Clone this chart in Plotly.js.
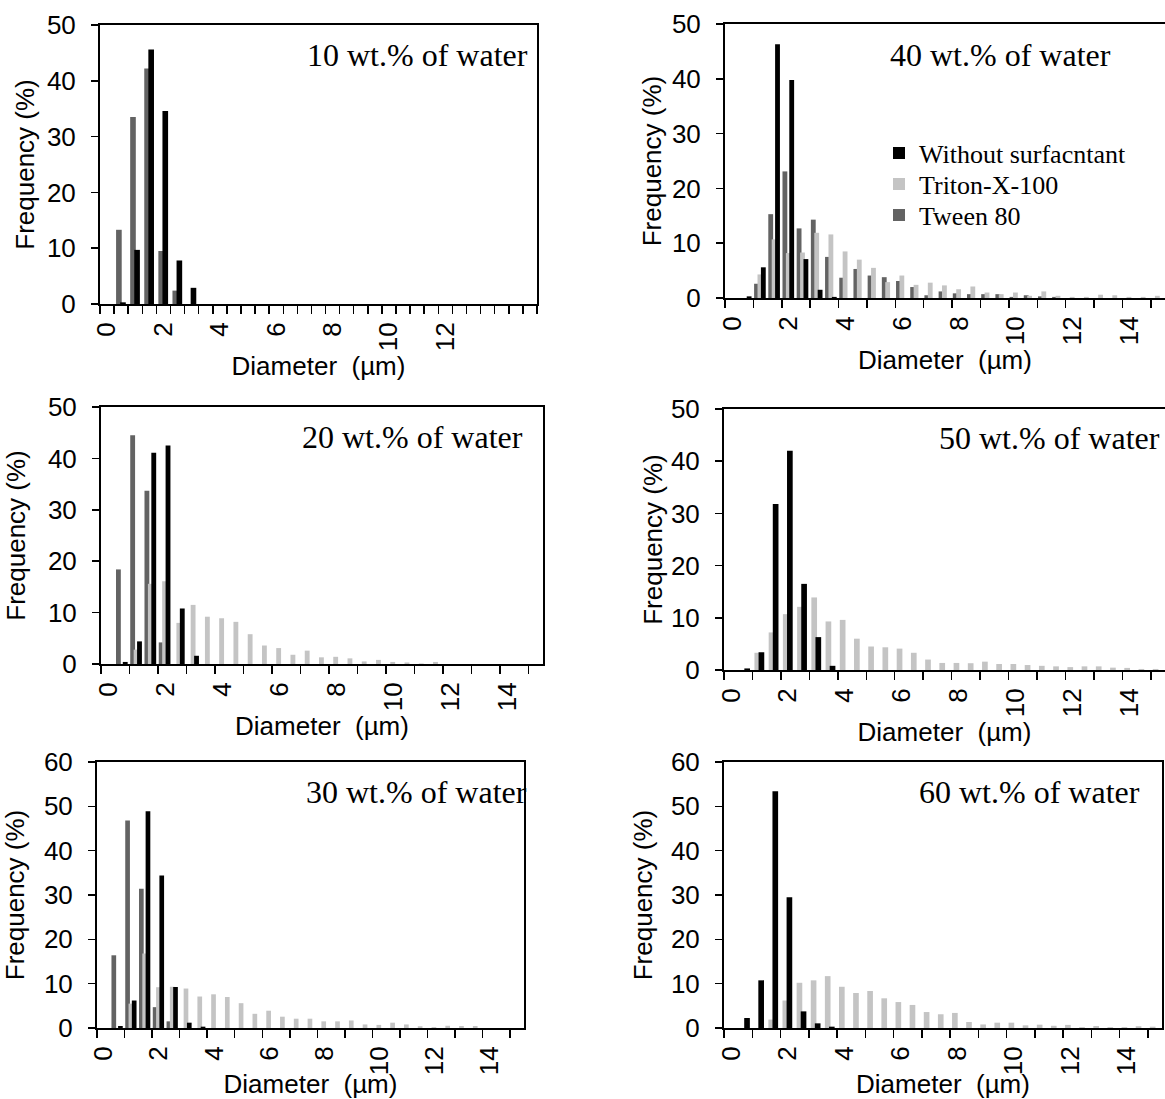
<!DOCTYPE html>
<html><head><meta charset="utf-8">
<script src="https://cdn.plot.ly/plotly-3.0.1.min.js"></script>
<style>html,body{margin:0;padding:0;background:#fff;} #chart{width:1165px;height:1099px;}</style>
</head><body><div id="chart"></div>
<script>
// ---------- data ----------
const diameter = [0,0.5,1,1.5,2,2.5,3,3.5,4,4.5,5,5.5,6,6.5,7,7.5,8,8.5,9,9.5,10,10.5,11,11.5,12,12.5,13,13.5,14,14.5,15];
const tickValues = [0,2,4,6,8,10,12,14];
const tickLabels = ['0','2','4','6','8','10','12','14'];
const tickValues10 = [0,2,4,6,8,10,12];
const tickLabels10 = ['0','2','4','6','8','10','12'];
const seriesNames = ['Without surfacntant','Triton-X-100','Tween 80'];
const panelLabels = ['10 wt.% of water','40 wt.% of water','20 wt.% of water','50 wt.% of water','30 wt.% of water','60 wt.% of water'];
const xTitle = 'Diameter\u00a0\u00a0(\u00b5m)';
const yTitle = 'Frequency (%)';

// 10 wt.%
const without10 = [0,0.3,9.7,45.6,34.6,7.8,2.9,0,0,0,0,0,0,0,0,0,0,0,0,0,0,0,0,0,0,0,0,0,0,0,0];
const tween10   = [0,13.3,33.5,42.2,9.5,2.4,0,0,0,0,0,0,0,0,0,0,0,0,0,0,0,0,0,0,0,0,0,0,0,0,0];
// 40 wt.%
const without40 = [0,0.3,5.6,46.3,39.8,7.1,1.5,0.2,0,0,0,0,0,0,0,0,0,0,0,0,0,0,0,0,0,0,0,0,0,0,0];
const triton40  = [0,0,4.3,10.7,8.2,8.3,11.9,11.6,8.5,7.0,5.5,2.9,4.1,2.4,2.8,2.3,1.6,2.1,1.0,0.7,1.0,0.4,1.2,0.4,0.2,0.2,0.6,0.5,0.2,0.2,0.4];
const tween40   = [0,0,2.6,15.3,23.1,12.7,14.3,7.5,3.7,5.3,4.1,3.8,3.1,2.0,0.5,1.2,0.85,0.7,0.7,0.7,0.2,0.5,0.3,0.2,0,0,0,0,0,0,0];
// 20 wt.%
const without20 = [0,0.4,4.4,41.1,42.5,10.8,1.6,0,0,0,0,0,0,0,0,0,0,0,0,0,0,0,0,0,0,0,0,0,0,0,0];
const triton20  = [0,0,2.8,15.6,16.1,8.0,11.5,9.2,8.9,8.2,5.8,3.6,3.1,1.8,2.6,1.3,1.4,1.1,0.5,0.8,0.4,0.3,0.1,0.4,0,0,0,0,0,0,0];
const tween20   = [0,18.4,44.5,33.7,4.2,0,0,0,0,0,0,0,0,0,0,0,0,0,0,0,0,0,0,0,0,0,0,0,0,0,0];
// 50 wt.%
const without50 = [0,0.3,3.4,31.8,42.0,16.5,6.3,0.8,0,0,0,0,0,0,0,0,0,0,0,0,0,0,0,0,0,0,0,0,0,0,0];
const triton50  = [0,0,3.3,7.2,10.7,12.1,13.9,9.3,9.6,6.0,4.5,4.35,4.1,3.3,2.0,1.35,1.35,1.3,1.6,1.15,1.15,0.95,0.8,0.7,0.55,0.7,0.7,0.45,0.4,0.2,0.2];
// 30 wt.%
const without30 = [0,0.45,6.2,48.9,34.4,9.25,1.2,0.3,0,0,0,0,0,0,0,0,0,0,0,0,0,0,0,0,0,0,0,0,0,0,0];
const triton30  = [0,0,5.5,16.8,9.2,9.3,8.9,7.1,7.6,7.0,5.6,3.2,3.9,2.55,2.1,2.1,1.5,1.5,1.7,0.8,0.7,1.2,0.8,0.4,0.2,0.5,0.45,0.45,0,0,0];
const tween30   = [0,16.4,46.8,31.4,4.7,1.5,0,0,0,0,0,0,0,0,0,0,0,0,0,0,0,0,0,0,0,0,0,0,0,0,0];
// 60 wt.%
const without60 = [0,2.25,10.75,53.4,29.5,3.75,1.05,0.3,0,0,0,0,0,0,0,0,0,0,0,0,0,0,0,0,0,0,0,0,0,0,0];
const triton60  = [0,0,0,1.9,6.2,10.2,10.75,11.7,9.3,7.9,8.35,6.7,5.85,5.2,3.6,3.1,3.4,1.35,0.8,1.2,1.2,0.6,0.75,0.5,0.7,0.2,0.45,0.2,0.2,0.4,0.3];

// ---------- styling ----------
const W = 1165, H = 1099;
const colWithout = '#000000', colTriton = '#c4c4c4', colTween = '#636363';
const sans = 'Liberation Sans, Arial, sans-serif';
const serif = 'Liberation Serif, Times New Roman, serif';

// bar slots (in µm; a category is 0.5 µm wide)
const slot3 = {tween:{o:-0.225,w:0.17}, triton:{o:-0.105,w:0.17}, without:{o:0.015,w:0.17}};
const slot2a = {first:{o:-0.18,w:0.2}, without:{o:-0.035,w:0.2}};

function bar(y, name, color, ax, slot, legendId){
  const t = {type:'bar', x:diameter, y:y, name:name, xaxis:'x'+ax, yaxis:'y'+ax,
    offset:slot.o, width:slot.w, marker:{color:color, line:{width:0}},
    showlegend:!!legendId, hoverinfo:'skip'};
  if (legendId) t.legend = legendId;
  return t;
}

const traces = [
  // panel 1: 10 wt.%
  bar(tween10, seriesNames[2], colTween, '', slot2a.first),
  bar(without10, seriesNames[0], colWithout, '', slot2a.without),
  // panel 2: 40 wt.%
  bar(tween40, seriesNames[2], colTween, '2', slot3.tween, 'legend3'),
  bar(triton40, seriesNames[1], colTriton, '2', slot3.triton, 'legend2'),
  bar(without40, seriesNames[0], colWithout, '2', slot3.without, 'legend'),
  // panel 3: 20 wt.%
  bar(tween20, seriesNames[2], colTween, '3', slot3.tween),
  bar(triton20, seriesNames[1], colTriton, '3', slot3.triton),
  bar(without20, seriesNames[0], colWithout, '3', slot3.without),
  // panel 4: 50 wt.%
  bar(triton50, seriesNames[1], colTriton, '4', slot2a.first),
  bar(without50, seriesNames[0], colWithout, '4', slot2a.without),
  // panel 5: 30 wt.%
  bar(tween30, seriesNames[2], colTween, '5', slot3.tween),
  bar(triton30, seriesNames[1], colTriton, '5', slot3.triton),
  bar(without30, seriesNames[0], colWithout, '5', slot3.without),
  // panel 6: 60 wt.%
  bar(triton60, seriesNames[1], colTriton, '6', slot2a.first),
  bar(without60, seriesNames[0], colWithout, '6', slot2a.without)
];

// panel boxes in pixels: [left, top, right, bottom]
const panels = [
  {id:'',  box:[100,25,537,304],   yMax:50, minorStep:0.5, tv:tickValues10, tt:tickLabels10, xs:1, ys:5,  ann:{x:530, y:55, a:'right'}},
  {id:'2', box:[725,24,1165,298],  yMax:50, minorStep:1,   tv:tickValues, tt:tickLabels, xs:0, ys:3,  ann:{x:1113, y:55, a:'right'}},
  {id:'3', box:[101,407,543,664],  yMax:50, minorStep:1,   tv:tickValues, tt:tickLabels, xs:0, ys:15, ann:{x:525, y:437, a:'right'}},
  {id:'4', box:[724,409,1165,670], yMax:50, minorStep:1,   tv:tickValues, tt:tickLabels, xs:0, ys:1,  ann:{x:1162, y:438, a:'right'}},
  {id:'5', box:[97,762,524,1028],  yMax:60, minorStep:1,   tv:tickValues, tt:tickLabels, xs:6, ys:15, ann:{x:304, y:792, a:'left'}},
  {id:'6', box:[724,762,1162,1028],yMax:60, minorStep:1,   tv:tickValues, tt:tickLabels, xs:6, ys:11, ann:{x:1142, y:792, a:'right'}}
];

function legendAt(yPx){
  return {x:879/W, y:1-yPx/H, xanchor:'left', yanchor:'middle', bgcolor:'rgba(0,0,0,0)',
    font:{family:serif, size:26, color:'#000'}, itemclick:false, itemdoubleclick:false};
}

const layout = {
  width:W, height:H, margin:{l:0,r:0,t:0,b:0},
  paper_bgcolor:'#ffffff', plot_bgcolor:'#ffffff',
  barmode:'overlay', showlegend:true,
  font:{family:sans, color:'#000', size:26},
  legend:legendAt(153), legend2:legendAt(184), legend3:legendAt(215),
  annotations:[]
};

panels.forEach((p, i) => {
  const [l,t,r,b] = p.box;
  const xa = 'xaxis'+p.id, ya = 'yaxis'+p.id;
  layout[xa] = {
    domain:[l/W, r/W], anchor:'y'+p.id, type:'linear', range:[-0.25,15.25],
    tickmode:'array', tickvals:p.tv, ticktext:p.tt, ticks:'', ticklen:0, tickangle:-90,
    tickfont:{family:sans, size:26, color:'#000'}, ticklabelstandoff:6,
    minor:{ticks:'outside', tick0:-0.25, dtick:p.minorStep, ticklen:8, tickwidth:1.5, tickcolor:'#000', showgrid:false},
    showline:true, mirror:true, linewidth:2, linecolor:'#000',
    showgrid:false, zeroline:false, fixedrange:true,
    title:{text:xTitle, font:{family:sans, size:26, color:'#000'}, standoff:p.xs}
  };
  layout[ya] = {
    domain:[1-b/H, 1-t/H], anchor:'x'+p.id, range:[0,p.yMax], tick0:0, dtick:10,
    ticks:'outside', ticklen:7, tickwidth:1.5, tickcolor:'#000',
    tickfont:{family:sans, size:26, color:'#000'}, ticklabelstandoff:10,
    showline:true, mirror:true, linewidth:2, linecolor:'#000',
    showgrid:false, zeroline:false, fixedrange:true,
    title:{text:yTitle, font:{family:sans, size:26, color:'#000'}, standoff:p.ys}
  };
  layout.annotations.push({
    xref:'paper', yref:'paper', x:p.ann.x/W, y:1-p.ann.y/H, xanchor:p.ann.a, yanchor:'middle',
    text:panelLabels[i], showarrow:false, font:{family:serif, size:32, color:'#000'}
  });
});

Plotly.newPlot('chart', traces, layout, {displayModeBar:false, staticPlot:true});
</script>
</body></html>
